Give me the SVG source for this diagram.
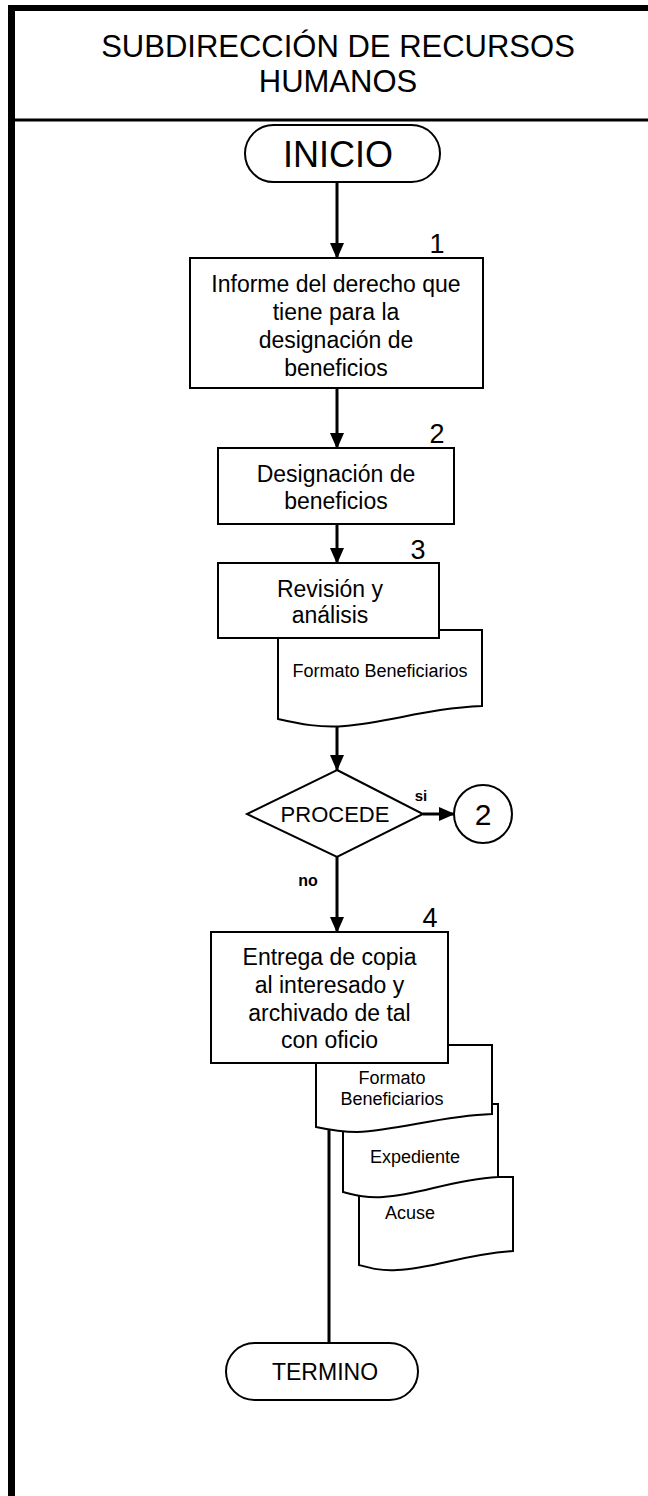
<svg xmlns="http://www.w3.org/2000/svg" width="648" height="1496" viewBox="0 0 648 1496">
<style>
text{font-family:"Liberation Sans",Arial,sans-serif;fill:#000;text-anchor:middle}
.shape{fill:#fff;stroke:#000;stroke-width:2}
.conn{stroke:#000;stroke-width:3;fill:none}
.t23{font-size:23px}
.doc{font-size:18px}
.num{font-size:27px}
</style>
<defs>
<marker id="arr" markerWidth="16" markerHeight="16" viewBox="0 0 16 16" refX="15" refY="8" orient="auto" markerUnits="userSpaceOnUse">
<path d="M0,1 L16,8 L0,15 z" fill="#000"/>
</marker>
</defs>
<rect x="0" y="0" width="648" height="1496" fill="#fff"/>
<g id="frame">
<line x1="11.5" y1="5" x2="11.5" y2="1496" stroke="#000" stroke-width="7"/>
<line x1="8" y1="8" x2="648" y2="8" stroke="#000" stroke-width="6"/>
<line x1="11" y1="120" x2="648" y2="120" stroke="#000" stroke-width="3"/>
<text x="338" y="57" style="font-size:31px">SUBDIRECCIÓN DE RECURSOS</text>
<text x="338" y="92" style="font-size:31px">HUMANOS</text>
</g>
<g id="connectors">
<line class="conn" x1="337" y1="182" x2="337" y2="258" marker-end="url(#arr)"/>
<line class="conn" x1="337" y1="388" x2="337" y2="448" marker-end="url(#arr)"/>
<line class="conn" x1="337" y1="524" x2="337" y2="563" marker-end="url(#arr)"/>
<line class="conn" x1="337" y1="724" x2="337" y2="770" marker-end="url(#arr)"/>
<line class="conn" x1="423" y1="814" x2="454" y2="814" marker-end="url(#arr)"/>
<line class="conn" x1="337" y1="857" x2="337" y2="932" marker-end="url(#arr)"/>
<line class="conn" x1="329" y1="1063" x2="329" y2="1343"/>
<text x="421" y="801" style="font-size:15px;font-weight:bold">si</text>
<text x="308" y="886" style="font-size:16px;font-weight:bold">no</text>
</g>
<g id="inicio">
<rect class="shape" x="245" y="125" width="195" height="57" rx="28.5"/>
<text x="338" y="167" style="font-size:36px">INICIO</text>
</g>
<g id="step1">
<rect class="shape" x="190" y="258" width="293" height="130"/>
<text class="num" x="437" y="253">1</text>
<text class="t23" x="336" y="292">Informe del derecho que</text>
<text class="t23" x="336" y="320">tiene para la</text>
<text class="t23" x="336" y="348">designación de</text>
<text class="t23" x="336" y="376">beneficios</text>
</g>
<g id="step2">
<rect class="shape" x="218" y="448" width="236" height="76"/>
<text class="num" x="437" y="443">2</text>
<text class="t23" x="336" y="482">Designación de</text>
<text class="t23" x="336" y="509">beneficios</text>
</g>
<g id="doc-formato1">
<path class="shape" d="M278,630 H482 V706 C430,708 390,722 345,726 C320,728 300,724 278,719 Z"/>
<text class="doc" x="380" y="677">Formato Beneficiarios</text>
</g>
<g id="step3">
<rect class="shape" x="218" y="563" width="221" height="75"/>
<text class="num" x="418" y="559">3</text>
<text class="t23" x="330" y="597">Revisión y</text>
<text class="t23" x="330" y="623">análisis</text>
</g>
<g id="decision">
<polygon class="shape" points="337,770 423,814 337,857 247,814"/>
<text x="335" y="822" style="font-size:22px">PROCEDE</text>
</g>
<g id="connector-2">
<circle class="shape" cx="483" cy="814" r="29"/>
<text x="483" y="825" style="font-size:30px">2</text>
</g>
<g id="doc-acuse">
<path class="shape" d="M359,1177 H513 V1251 C465,1254 435,1268 397,1270 C380,1271 370,1268 359,1265 Z"/>
<text class="doc" x="410" y="1219">Acuse</text>
</g>
<g id="doc-expediente">
<path class="shape" d="M343,1104 H498 V1177 C450,1180 420,1195 383,1197 C365,1198 355,1195 343,1192 Z"/>
<text class="doc" x="415" y="1163">Expediente</text>
</g>
<g id="doc-formato2">
<path class="shape" d="M316,1045 H492 V1114 C440,1116 400,1130 357,1132 C340,1132 330,1130 316,1127 Z"/>
<text class="doc" x="392" y="1084">Formato</text>
<text class="doc" x="392" y="1105">Beneficiarios</text>
</g>
<g id="step4">
<rect class="shape" x="211" y="932" width="237" height="131"/>
<text class="num" x="430" y="927">4</text>
<text class="t23" x="329.5" y="965">Entrega de copia</text>
<text class="t23" x="329.5" y="993">al interesado y</text>
<text class="t23" x="329.5" y="1021">archivado de tal</text>
<text class="t23" x="329.5" y="1048">con oficio</text>
</g>
<g id="termino">
<rect class="shape" x="226" y="1343" width="192" height="57" rx="28.5"/>
<text x="325" y="1380" style="font-size:23px">TERMINO</text>
</g>
</svg>
